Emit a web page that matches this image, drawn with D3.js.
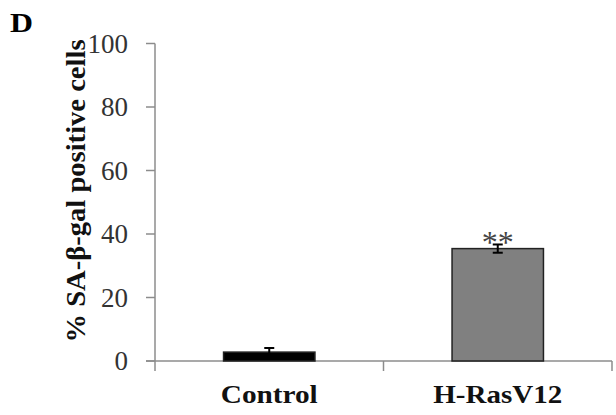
<!DOCTYPE html>
<meta charset="utf-8">
<style>
body { margin: 0; background: #fff; }
svg text { font-family: "Liberation Serif", "DejaVu Serif", serif; }
.axis-line { stroke: #8c8c8c; stroke-width: 1.5; fill: none; }
.tick-label { font-size: 27px; fill: #333; }
.cat-label { font-size: 25px; font-weight: bold; fill: #111; }
.y-title { font-size: 28px; font-weight: bold; fill: #111; }
</style>
<body>
<svg width="616" height="415"></svg>
<script src="https://cdn.jsdelivr.net/npm/d3@7"></script>
<script>
// data
const categories = ["Control", "H-RasV12"];
const values = [2.8, 35.4];
const errors = [1.3, 1.3];
const fills = ["#000000", "#808080"];
const stars = ["", "**"];
const labelWidths = [97, 129];
const yTicks = [0, 20, 40, 60, 80, 100];

const svg = d3.select("svg");

const x = d3.scaleBand().domain(categories).range([155, 612]).padding(0);
const y = d3.scaleLinear().domain([0, 100]).range([361, 43.5]);
const barW = x.bandwidth() * 0.4;

// panel letter
svg.append("text").attr("x", 10).attr("y", 32)
  .attr("textLength", 23).attr("lengthAdjust", "spacingAndGlyphs")
  .style("font-size", "27px").style("font-weight", "bold").text("D");

// y axis
svg.append("line").attr("class", "axis-line")
  .attr("x1", x.range()[0]).attr("x2", x.range()[0])
  .attr("y1", y(0)).attr("y2", y(100));
svg.selectAll(".ytick").data(yTicks).enter().append("line")
  .attr("class", "axis-line")
  .attr("x1", x.range()[0] - 9).attr("x2", x.range()[0])
  .attr("y1", d => y(d)).attr("y2", d => y(d));
svg.selectAll(".tick-label").data(yTicks).enter().append("text")
  .attr("class", "tick-label")
  .attr("x", 128).attr("y", d => y(d) + 9)
  .attr("text-anchor", "end")
  .text(d => d);

// x axis
svg.append("line").attr("class", "axis-line")
  .attr("x1", x.range()[0] - 9).attr("x2", x.range()[1])
  .attr("y1", y(0)).attr("y2", y(0));
const edges = [x.range()[0]].concat(categories.map(c => x(c) + x.bandwidth()));
svg.selectAll(".xtick").data(edges).enter().append("line")
  .attr("class", "axis-line")
  .attr("x1", d => d).attr("x2", d => d)
  .attr("y1", y(0)).attr("y2", y(0) + 10);

// bars
categories.forEach((c, i) => {
  const cx = x(c) + x.bandwidth() / 2;
  svg.append("rect")
    .attr("x", cx - barW / 2).attr("width", barW)
    .attr("y", y(values[i])).attr("height", y(0) - y(values[i]))
    .attr("fill", fills[i]).attr("stroke", "#222").attr("stroke-width", 1.5);
  // error bar (upper + lower)
  const top = y(values[i] + errors[i]), bot = y(values[i] - errors[i]);
  svg.append("line").attr("x1", cx).attr("x2", cx)
    .attr("y1", top).attr("y2", bot).attr("stroke", "#000").attr("stroke-width", 2);
  svg.append("line").attr("x1", cx - 5).attr("x2", cx + 5)
    .attr("y1", top).attr("y2", top).attr("stroke", "#000").attr("stroke-width", 2);
  svg.append("line").attr("x1", cx - 5).attr("x2", cx + 5)
    .attr("y1", bot).attr("y2", bot).attr("stroke", "#000").attr("stroke-width", 2);
  if (stars[i]) {
    svg.append("text").attr("x", cx).attr("y", top + 9)
      .attr("text-anchor", "middle").style("font-size", "32px").style("fill", "#444")
      .text(stars[i]);
  }
  svg.append("text").attr("class", "cat-label")
    .attr("x", cx).attr("y", 403).attr("text-anchor", "middle")
    .attr("textLength", labelWidths[i]).attr("lengthAdjust", "spacingAndGlyphs")
    .text(c);
});

// y title
svg.append("text").attr("class", "y-title")
  .attr("transform", "translate(85,191) rotate(-90)")
  .attr("text-anchor", "middle")
  .attr("textLength", 303).attr("lengthAdjust", "spacingAndGlyphs")
  .text("% SA-β-gal positive cells");
</script>
</body>
